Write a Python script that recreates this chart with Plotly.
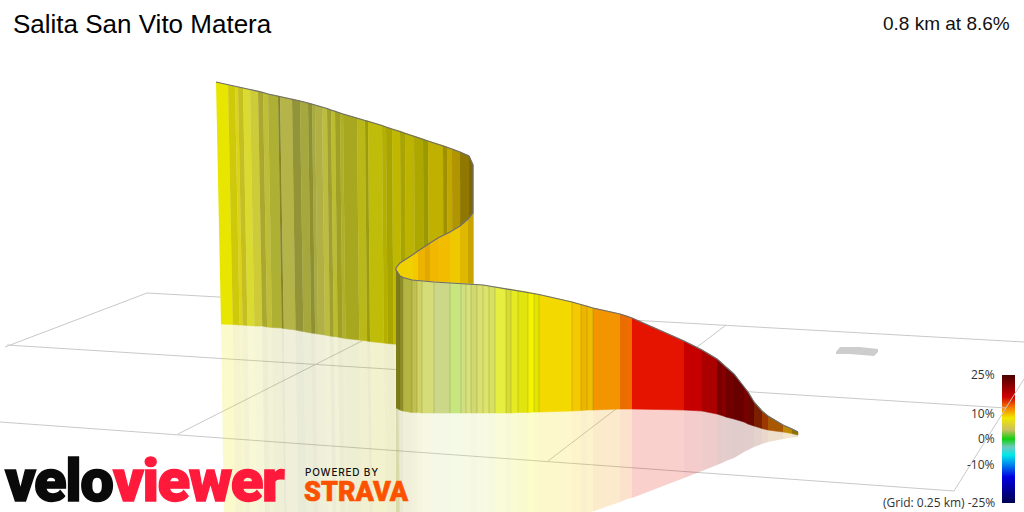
import numpy as np
import plotly.graph_objects as go

title_text = "Salita San Vito Matera"
summary_text = "0.8 km at 8.6%"
scale_labels = ["25%", "10%", "0%", "-10%", "(Grid: 0.25 km) -25%"]
scale_label_y = [374.5, 413, 438.5, 464.5, 502.5]

back_x = [216,228,235,238,243,250,258,263,268,278,280,292,300,308,312,315,322,327,331,335,340,343,357,365,368,382,386,392,400,405,414,423,428,443,447,452,460,469,473]
back_top = [82,85,86.5,87,88,89.5,91,92.5,94,96,96.5,99,101,103,104,105,107,108.5,110,111,113,114,118,120.5,121,125.5,127,129,131,133,136,139,141,145.5,147,149,152,156,165]
back_base = [324,324.5,325,325,325.5,326,326,327,327.5,328,328.5,330,331.5,333,333.5,334,335,336,336.5,337,338,338.5,340,341,341.5,343,343.5,344,345,345,346,347,347,348,349,349,350,350,351]
back_colors = ["#e8e600","#cfc90c","#dcd41a","#c5c022","#dada30","#cecb38","#aaa82e","#c0bd38","#aeb034","#85852a","#b4b448","#939438","#a6a83e","#8f9030","#a8aa40","#b0b044","#bcbc40","#a0a030","#bcbc30","#a0a025","#b0b028","#a8a820","#bab818","#9c9c10","#c0bc0a","#b5b000","#a8a400","#c0b800","#a8a400","#bcb400","#aca800","#9c9800","#c0b000","#a09000","#c0a800","#b09400","#907800","#806800"]

mid_x = [396,400,413,418,425,430,438,450,460,468,473]
mid_top = [268,263,254.5,251,246,243,238,232,226,219,213]
mid_base = [300,300,300,300,300,300,300,300,300,300,300]
mid_colors = ["#f0d000","#f0d000","#f5c800","#ecb400","#e0a800","#f0b800","#f2bc00","#eec800","#e0b800","#c8a400"]

front_x = [396,400,403,412,417,422,434,450,461,466,471,477,483,489,495,506,511,518,528,534,539,572,581,587,593,620,627,632,684,702,717,722,726,734,744,748,754,762,768,783,792,798]
front_top = [270,276,277.5,280,280.5,281,282,283,283.5,284,284,284.5,285,286,287,288.5,289.5,290.5,292,293.5,294.5,302,304.5,306,308,314,316,318,341,350,359,363,367,374,387,392,402,411,416,425,429,432]
front_base = [408,410,411,412.5,412.5,413,413,413,413,413,413,413,413,413,413,413,413,412.5,412.5,412,412,411,410.5,410,410,409,409,409,410,411,414,415.5,417,419,422,424,426,428.5,430,432,433.5,435]
front_refl = [540,540,540,540,540,540,540,540,540,540,540,540,540,540,540,540,540,540,540,540,532,519,516,514,511.5,502,499,498,478,471,465,463,461,458,452,450,447,444,442,439,437.5,437]
front_colors = ["#7c7c1a","#90902a","#b4b440","#c0c050","#cfd460","#d6dc78","#ccd888","#c8e680","#d0e080","#d8e27a","#d0d870","#dce070","#dde46c","#d8e060","#e6ee40","#d8dc30","#e6ea20","#e2e410","#f4f400","#e4e400","#f3d900","#f5c800","#eeb500","#f0bc00","#f29500","#ea6d00","#f46a00","#e51400","#c60000","#aa0000","#7a0000","#860000","#700000","#680000","#7a0000","#6a0500","#7a2000","#9a3800","#a85800","#c08800","#8f7000"]

grid_x = [[147,1024],[7,1006],[0,954],[147,5],[433,178],[726,548],[1024,954]]
grid_y = [[293,342],[345,408],[422,491],[293,347],[305,434],[325,461],[379,491]]
patch_x = [836,840,860,878,878,874,850,836]
patch_y = [352,347,347,349,352,356,354,354]

bar_stop_y = [375,397,408,418,430,439,447,455,462,477,503]
bar_stop_c = ["#4a0000","#d00000","#f58000","#f0e800","#c8c060","#10d010","#70c8c0","#00e8e8","#00a0f0","#0000e0","#000050"]

def rgba(c, a):
    return f"rgba({int(c[1:3],16)},{int(c[3:5],16)},{int(c[5:7],16)},{a})"

fig = go.Figure()

def poly(xs, ys, fill, line=None):
    fig.add_trace(go.Scatter(x=xs, y=ys, mode="lines", fill="toself", fillcolor=fill,
                             line=dict(color=line or "rgba(0,0,0,0)", width=0.6 if line else 0),
                             hoverinfo="skip", showlegend=False))

for gx, gy in zip(grid_x, grid_y):
    fig.add_trace(go.Scatter(x=gx, y=gy, mode="lines", line=dict(color="#c9c9c9", width=1),
                             hoverinfo="skip", showlegend=False))
poly(patch_x, patch_y, "#cdcdcd")

LEAN = 5.0
def base_x(x):
    return x + LEAN * (473 - x) / 257

REFL_LIMIT = 397
for i, c in enumerate(back_colors):
    x0, x1 = back_x[i], back_x[i + 1]
    b0, b1 = min(base_x(x0), REFL_LIMIT), min(base_x(x1), REFL_LIMIT)
    if b1 > b0:
        poly([b0, b1, b1 + 3, b0 + 3], [back_base[i], back_base[i + 1], 530, 530], rgba(c, 0.2))

for i, c in enumerate(front_colors):
    x0, x1 = front_x[i], front_x[i + 1]
    poly([x0, x1, x1, x0], [front_base[i], front_base[i + 1], front_refl[i + 1], front_refl[i]], rgba(c, 0.2))

for i, c in enumerate(back_colors):
    x0, x1 = back_x[i], back_x[i + 1]
    poly([x0, x1, base_x(x1), base_x(x0)], [back_top[i], back_top[i + 1], back_base[i + 1], back_base[i]], c, c)
for i, c in enumerate(mid_colors):
    x0, x1 = mid_x[i], mid_x[i + 1]
    poly([x0, x1, x1, x0], [mid_top[i], mid_top[i + 1], mid_base[i + 1], mid_base[i]], c, c)
for i, c in enumerate(front_colors):
    x0, x1 = front_x[i], front_x[i + 1]
    poly([x0, x1, x1, x0], [front_top[i], front_top[i + 1], front_base[i + 1], front_base[i]], c, c)

sx, sy = [], []
for i in range(1, 25):
    sx += [front_x[i], front_x[i], None]
    sy += [front_top[i], front_base[i], None]
fig.add_trace(go.Scatter(x=sx, y=sy, mode="lines", line=dict(color="rgba(90,90,40,0.22)", width=1),
                         hoverinfo="skip", showlegend=False))

ox = back_x + [473] + mid_x[::-1] + front_x
oy = back_top + [213] + mid_top[::-1] + front_top
fig.add_trace(go.Scatter(x=ox, y=oy, mode="lines", line=dict(color="#6e6e6e", width=1.2),
                         hoverinfo="skip", showlegend=False))

rows = np.arange(375, 503) + 0.5
span = bar_stop_y[-1] - bar_stop_y[0]
cs = [[(y - bar_stop_y[0]) / span, c] for y, c in zip(bar_stop_y, bar_stop_c)]
fig.add_trace(go.Heatmap(x=[1002, 1015], y=rows, z=[[r] for r in rows], colorscale=cs,
                         showscale=False, hoverinfo="skip", zmin=375, zmax=503))

def label(x, y, text, family, size, color, weight=400):
    fig.add_trace(go.Scatter(x=[x], y=[y], mode="text", text=[text], textposition="middle right",
                             textfont=dict(family=family, size=size, color=color, weight=weight),
                             hoverinfo="skip", showlegend=False))

label(5, 486, "velo", "Roboto", 60, "#0a0a0a", 900)
label(113, 486, "viewer", "Roboto", 60, "#ff1a3c", 900)
label(305, 473.5, "POWERED BY", "Inter", 10, "#111111", 500)
label(304, 494, "STRAVA", "Roboto", 27, "#fc5200", 900)

ann = [
    dict(x=12, y=24, text=title_text, xanchor="left", font=dict(family="Liberation Sans", size=26, color="#000")),
    dict(x=1011, y=23, text=summary_text, xanchor="right", font=dict(family="Liberation Sans", size=19, color="#111")),
]
for t, y in zip(scale_labels, scale_label_y):
    ann.append(dict(x=996, y=y, text=t, xanchor="right", font=dict(family="Open Sans", size=12, color="#333")))
for a in ann:
    a.update(xref="x", yref="y", showarrow=False, yanchor="middle", borderpad=0, bgcolor="rgba(0,0,0,0)")

fig.update_layout(width=1024, height=512, autosize=False, margin=dict(l=0, r=0, t=0, b=0),
                  paper_bgcolor="white", plot_bgcolor="white", annotations=ann, showlegend=False,
                  xaxis=dict(range=[0, 1024], visible=False, fixedrange=True),
                  yaxis=dict(range=[512, 0], visible=False, fixedrange=True))

post = """
document.body.style.margin='0';
document.querySelectorAll('.textpoint text').forEach(function(t){
  var s=t.textContent;
  if(s==='velo'||s==='viewer'){
    t.style.letterSpacing='-1.5px';
    t.style.stroke=(s==='velo')?'#0a0a0a':'#ff1a3c';
    t.style.strokeWidth='1.4px';
  }
  if(s==='POWERED BY'){t.style.letterSpacing='0.8px';}
  if(s==='STRAVA'){t.style.stroke='#fc5200';t.style.strokeWidth='0.6px';}
});
"""
fig.write_html("out.html", post_script=post, config=dict(displayModeBar=False, staticPlot=True))
